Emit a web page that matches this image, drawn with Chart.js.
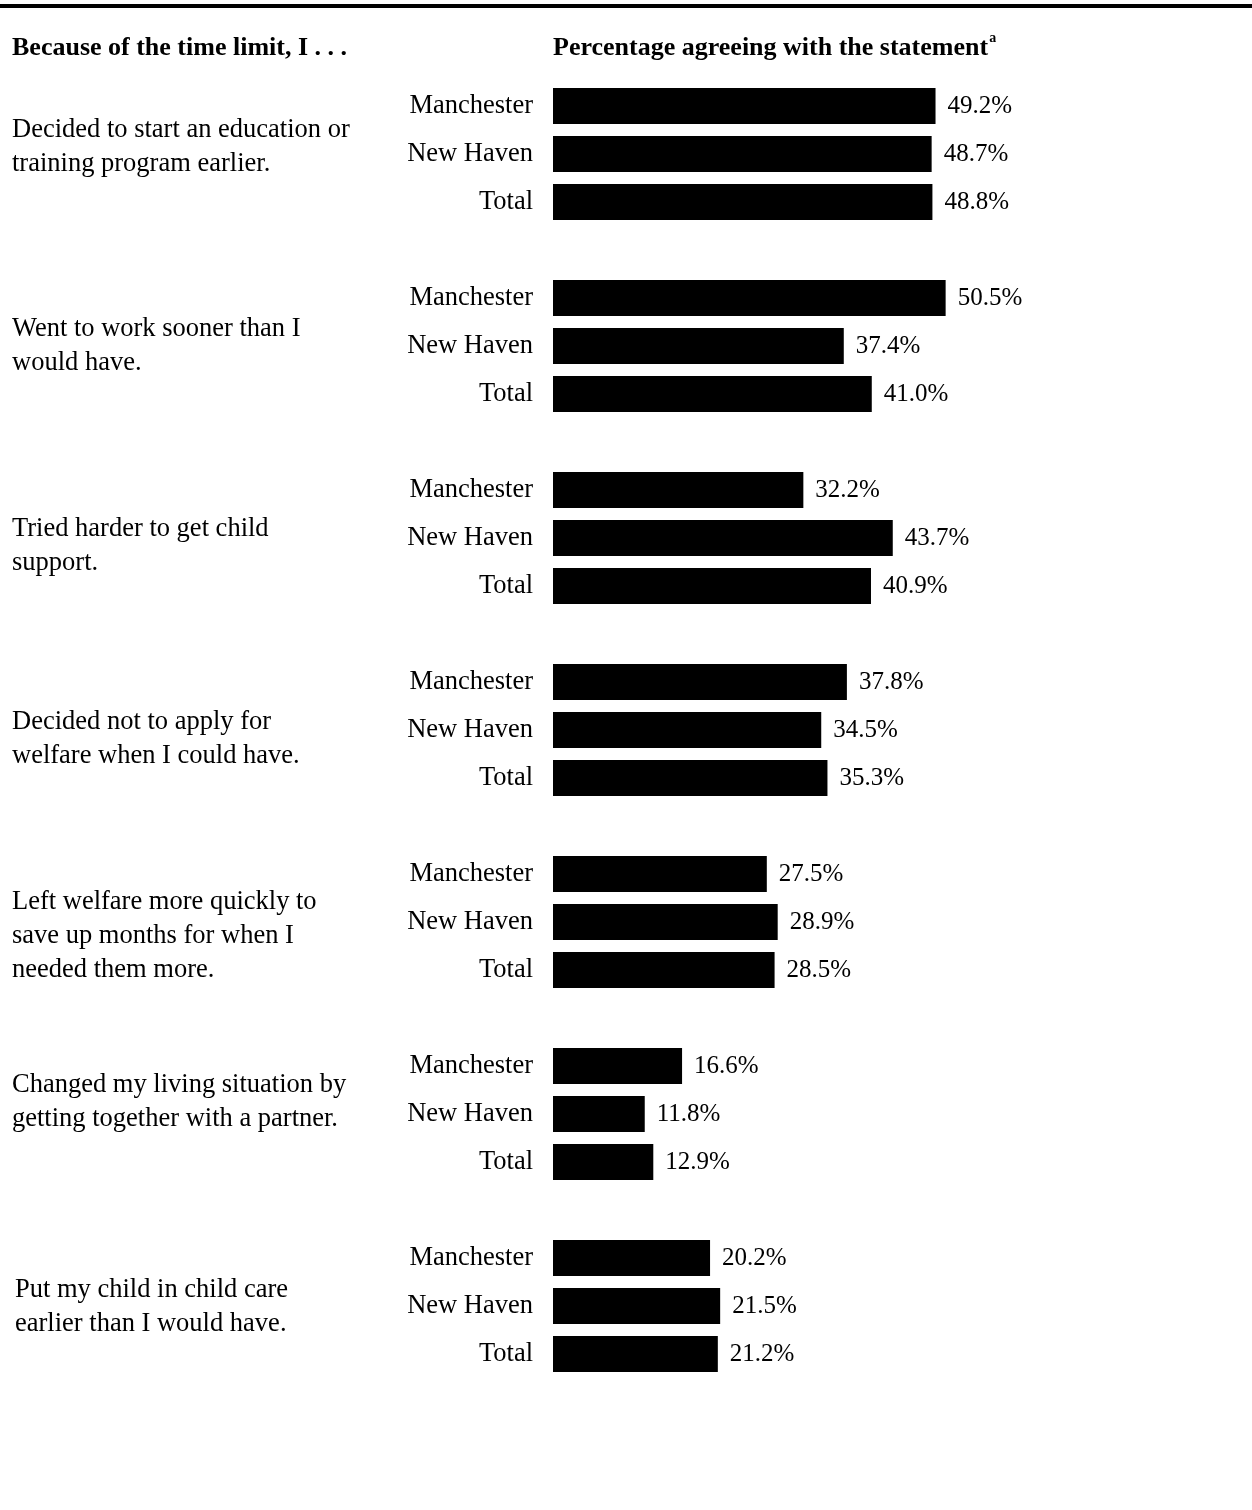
<!DOCTYPE html>
<html>
<head>
<meta charset="utf-8">
<script src="https://cdn.jsdelivr.net/npm/chart.js@4.4.1/dist/chart.umd.min.js"></script>
<style>
  html, body { margin: 0; padding: 0; background: #fff; }
  canvas { display: block; }
</style>
</head>
<body>
<canvas id="c" width="1252" height="1510"></canvas>
<script>
// statements (left column), one per group
const statements = [
  ["Decided to start an education or", "training program earlier."],
  ["Went to work sooner than I", "would have."],
  ["Tried harder to get child", "support."],
  ["Decided not to apply for", "welfare when I could have."],
  ["Left welfare more quickly to", "save up months for when I", "needed them more."],
  ["Changed my living situation by", "getting together with a partner."],
  ["Put my child in child care", "earlier than I would have."],
];
const sites = ["Manchester", "New Haven", "Total"];
const manchester = [49.2, 50.5, 32.2, 37.8, 27.5, 16.6, 20.2];
const newHaven   = [48.7, 37.4, 43.7, 34.5, 28.9, 11.8, 21.5];
const total      = [48.8, 41.0, 40.9, 35.3, 28.5, 12.9, 21.2];

// flatten into rows, with an empty row between groups
const labels = [], values = [];
statements.forEach((s, g) => {
  if (g > 0) { labels.push(""); values.push(null); }
  labels.push(sites[0]); values.push(manchester[g]);
  labels.push(sites[1]); values.push(newHaven[g]);
  labels.push(sites[2]); values.push(total[g]);
});

const serif = "'Liberation Serif', 'Times New Roman', serif";
// small nudges of the statement blocks relative to their group middle (layout only)
const textShift = [-7, 0.5, 8.5, 9.5, 14, -12, 1.5];
const textLeft = [12, 12, 12, 12, 12, 12, 15];

const decor = {
  id: "decor",
  afterDraw(chart) {
    const ctx = chart.ctx, y = chart.scales.y;
    ctx.save();
    // top rule
    ctx.fillStyle = "#000";
    ctx.fillRect(0, 4, chart.width, 4);
    // headers
    ctx.textBaseline = "middle";
    ctx.textAlign = "left";
    ctx.font = "bold 26px " + serif;
    ctx.fillText("Because of the time limit, I . . .", 12, 48);
    const head = "Percentage agreeing with the statement";
    ctx.fillText(head, 553, 48);
    const w = ctx.measureText(head).width;
    ctx.font = "bold 14px " + serif;
    ctx.fillText("a", 553 + w + 1, 38);
    // statements
    ctx.font = "26.5px " + serif;
    statements.forEach((lines, g) => {
      const mid = y.getPixelForValue(g * 4 + 1) + textShift[g];
      const lh = 34;
      const top = mid - (lines.length - 1) * lh / 2;
      lines.forEach((t, i) => ctx.fillText(t, textLeft[g], top + i * lh));
    });
    // value labels
    ctx.font = "25px " + serif;
    chart.getDatasetMeta(0).data.forEach((bar, i) => {
      if (values[i] == null) return;
      ctx.fillText(values[i].toFixed(1) + "%", bar.x + 12, bar.y);
    });
    ctx.restore();
  }
};

new Chart(document.getElementById("c"), {
  type: "bar",
  data: {
    labels,
    datasets: [{ data: values, backgroundColor: "#000", barPercentage: 0.75, categoryPercentage: 1 }],
  },
  options: {
    indexAxis: "y",
    responsive: false,
    animation: false,
    layout: { padding: { top: 82, bottom: 132, left: 0, right: 77 } },
    plugins: { legend: { display: false }, tooltip: { enabled: false } },
    scales: {
      x: { display: false, min: 0, max: 80 },
      y: {
        grid: { display: false, drawTicks: false },
        border: { display: false },
        ticks: { color: "#000", font: { family: serif, size: 26.5 }, padding: 20 },
        afterFit(s) { s.width = 553; },
      },
    },
  },
  plugins: [decor],
});
</script>
</body>
</html>
